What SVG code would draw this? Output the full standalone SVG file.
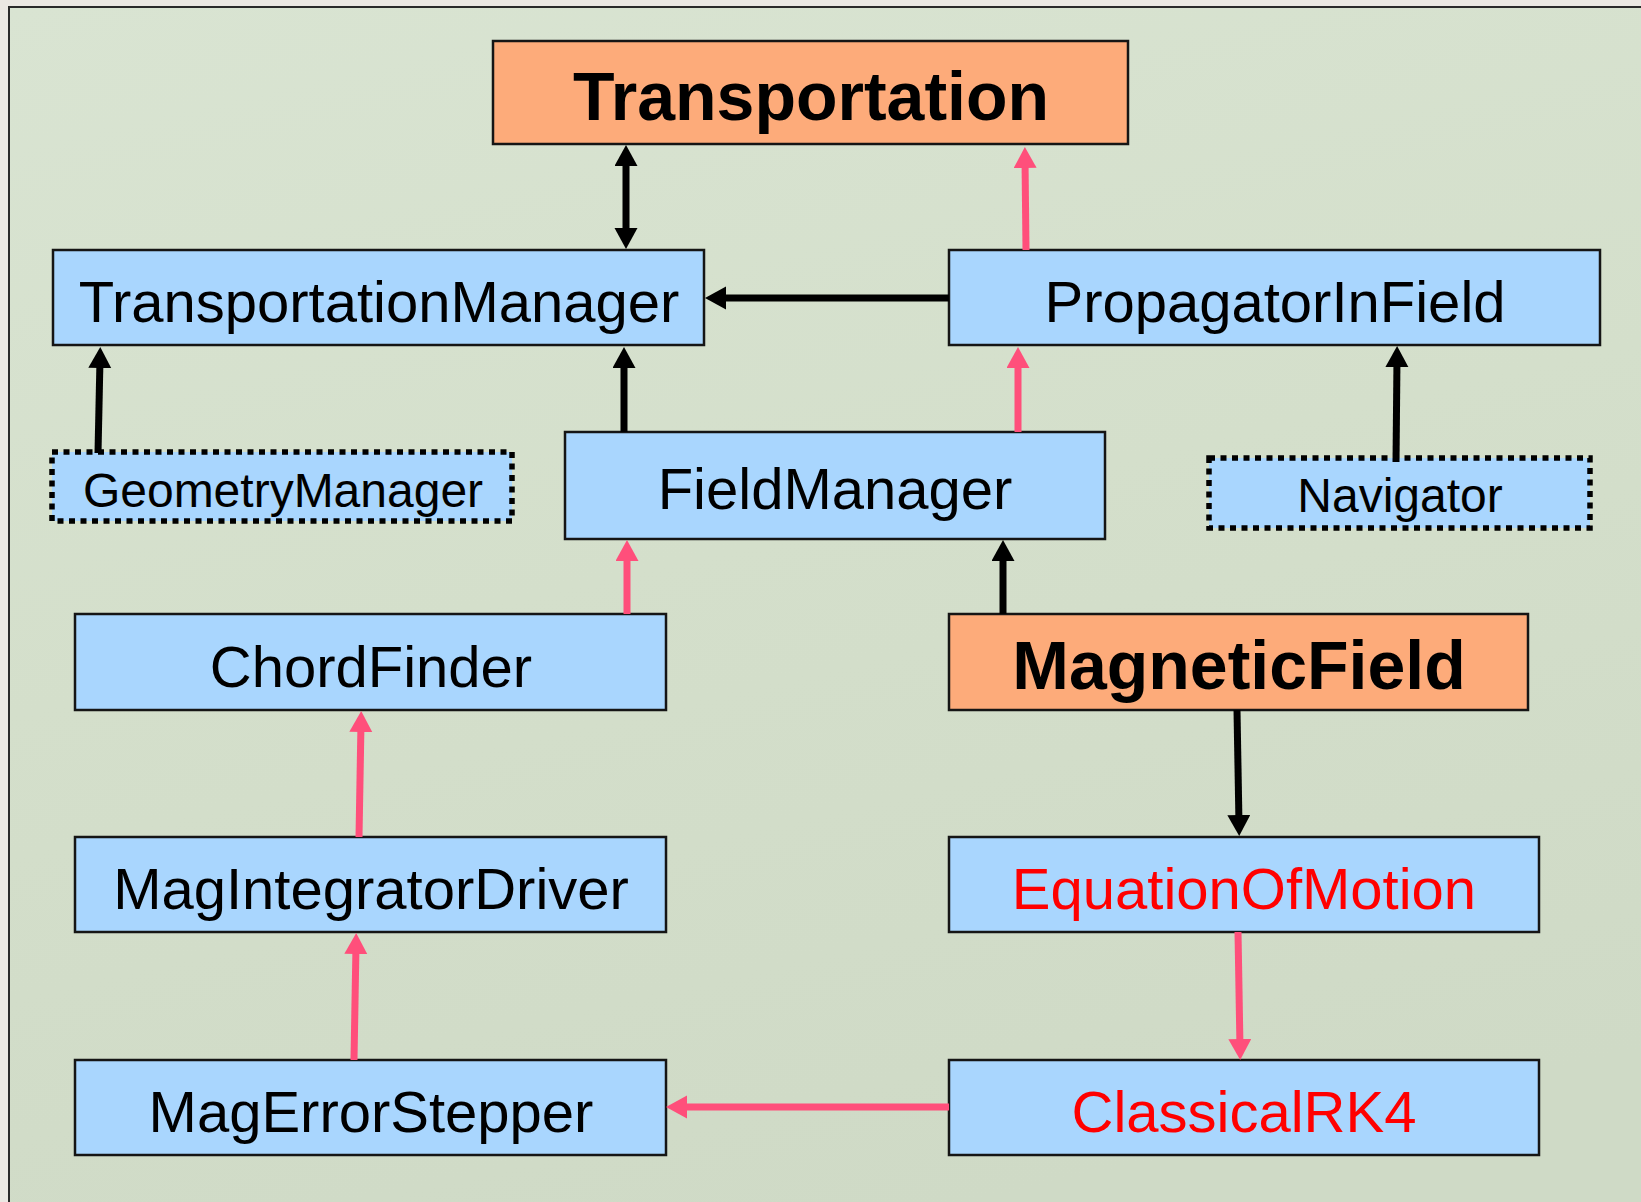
<svg xmlns="http://www.w3.org/2000/svg" width="1641" height="1202" viewBox="0 0 1641 1202">
  <defs>
    <linearGradient id="panelFill" x1="0" y1="0" x2="0.3" y2="1">
      <stop offset="0" stop-color="#d9e4d2"/>
      <stop offset="0.5" stop-color="#d4dfcb"/>
      <stop offset="1" stop-color="#cfdac6"/>
    </linearGradient>
    <marker id="headBlack" markerUnits="userSpaceOnUse" markerWidth="22" markerHeight="24" viewBox="0 0 22 24" refX="9" refY="11.5" orient="auto-start-reverse">
      <path d="M0,0 L21,11.5 L0,23 z" fill="#000"/>
    </marker>
    <marker id="headPink" markerUnits="userSpaceOnUse" markerWidth="22" markerHeight="24" viewBox="0 0 22 24" refX="9" refY="11.5" orient="auto-start-reverse">
      <path d="M0,0 L21,11.5 L0,23 z" fill="#ff4f7b"/>
    </marker>
    <style>
      .box { fill: #a9d6fe; stroke: #151515; stroke-width: 2.5; }
      .hot { fill: #fdab7a; stroke: #151515; stroke-width: 2.5; }
      .dotted { fill: #a9d6fe; stroke: #000; stroke-width: 5.5; stroke-dasharray: 6 5.5; }
      .lbl { font-family: "Liberation Sans", Arial, sans-serif; font-size: 58px; fill: #000; text-anchor: middle; }
      .lbl.big { font-size: 68px; font-weight: bold; }
      .lbl.small { font-size: 48px; }
      .lbl.red { fill: #ff0000; }
      .blk { fill: none; stroke: #000; stroke-width: 7; marker-end: url(#headBlack); }
      .pnk { fill: none; stroke: #ff4f7b; stroke-width: 7; marker-end: url(#headPink); }
    </style>
  </defs>

  <!-- page and panel -->
  <rect x="0" y="0" width="1641" height="1202" fill="#ebe8e3"/>
  <rect x="9" y="7" width="1700" height="1300" fill="url(#panelFill)" stroke="#2a2a2a" stroke-width="2"/>

  <!-- class boxes -->
  <g id="transportation">
    <rect class="hot" x="493" y="41" width="635" height="103"/>
    <text class="lbl big" x="811" y="120">Transportation</text>
  </g>
  <g id="transportation-manager">
    <rect class="box" x="53" y="250" width="651" height="95"/>
    <text class="lbl" x="379" y="322">TransportationManager</text>
  </g>
  <g id="propagator-in-field">
    <rect class="box" x="949" y="250" width="651" height="95"/>
    <text class="lbl" x="1275" y="322">PropagatorInField</text>
  </g>
  <g id="geometry-manager">
    <rect class="dotted" x="52" y="452" width="460" height="69"/>
    <text class="lbl small" x="283" y="507">GeometryManager</text>
  </g>
  <g id="field-manager">
    <rect class="box" x="565" y="432" width="540" height="107"/>
    <text class="lbl" x="835" y="509">FieldManager</text>
  </g>
  <g id="navigator">
    <rect class="dotted" x="1209" y="458" width="381" height="70"/>
    <text class="lbl small" x="1400" y="512">Navigator</text>
  </g>
  <g id="chord-finder">
    <rect class="box" x="75" y="614" width="591" height="96"/>
    <text class="lbl" x="371" y="687">ChordFinder</text>
  </g>
  <g id="magnetic-field">
    <rect class="hot" x="949" y="614" width="579" height="96"/>
    <text class="lbl big" x="1239" y="689">MagneticField</text>
  </g>
  <g id="mag-integrator-driver">
    <rect class="box" x="75" y="837" width="591" height="95"/>
    <text class="lbl" x="371" y="909">MagIntegratorDriver</text>
  </g>
  <g id="equation-of-motion">
    <rect class="box" x="949" y="837" width="590" height="95"/>
    <text class="lbl red" x="1244" y="909">EquationOfMotion</text>
  </g>
  <g id="mag-error-stepper">
    <rect class="box" x="75" y="1060" width="591" height="95"/>
    <text class="lbl" x="371" y="1132">MagErrorStepper</text>
  </g>
  <g id="classical-rk4">
    <rect class="box" x="949" y="1060" width="590" height="95"/>
    <text class="lbl red" x="1244" y="1132">ClassicalRK4</text>
  </g>

  <!-- connectors -->
  <g id="connectors">
    <path class="blk" d="M626,157 L626,237" marker-start="url(#headBlack)"/>
    <path class="pnk" d="M1026,250 L1025,159"/>
    <path class="blk" d="M949,298 L717,298"/>
    <path class="blk" d="M98,453 L100,359"/>
    <path class="blk" d="M624,432 L624,359"/>
    <path class="pnk" d="M1018,432 L1018,359"/>
    <path class="blk" d="M1396,462 L1397,358"/>
    <path class="pnk" d="M627,614 L627,552"/>
    <path class="blk" d="M1003,614 L1003,552"/>
    <path class="blk" d="M1237,710 L1239,824"/>
    <path class="pnk" d="M359,837 L361,723"/>
    <path class="pnk" d="M354,1060 L356,945"/>
    <path class="pnk" d="M1238,932 L1240,1048"/>
    <path class="pnk" d="M949,1107 L678,1107"/>
  </g>
</svg>
